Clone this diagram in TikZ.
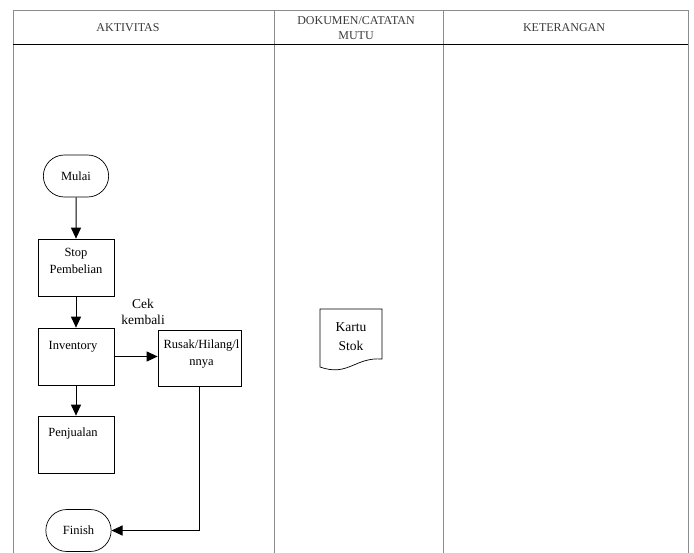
\documentclass[tikz,border=0pt]{standalone}
\usepackage{fontspec}
\setmainfont{Liberation Serif}
\usetikzlibrary{shapes.misc,arrows.meta,positioning}
\definecolor{gridgray}{HTML}{8C8C8C}
\definecolor{headgray}{HTML}{3A3A3A}
\tikzset{
  terminal/.style={draw, line width=0.7pt, rounded rectangle, minimum width=72pt, minimum height=42pt, font=\fontsize{12.5}{14}\selectfont},
  procbox/.style={draw, line width=0.7pt, rectangle, minimum width=76pt, minimum height=57pt},
  boxtext/.style={font=\fontsize{12.5}{17}\selectfont, align=center},
  headlabel/.style={font=\fontsize{12}{14.5}\selectfont, text=headgray, align=center},
  flow/.style={-{Triangle[length=11pt,width=10pt]}, line width=1pt},
}

\begin{document}
\begin{tikzpicture}[x=1pt,y=-1pt]
\useasboundingbox (0,0) rectangle (694,552);
\clip (0,0) rectangle (694,552);
% table
\fill[white] (0,0) rectangle (694,552);
\draw[gridgray, line width=0.9pt] (13,10) rectangle (688,600);
\draw[gridgray, line width=0.9pt] (274,10) -- (274,600);
\draw[gridgray, line width=0.9pt] (443,10) -- (443,600);
\draw[black, line width=0.9pt] (13,44) -- (688,44);
\node[headlabel] (hakt) at (128,28) {AKTIVITAS};
\node[headlabel] (hdok) at (356,28) {DOKUMEN/CATATAN\\MUTU};
\node[headlabel] (hket) at (564,28) {KETERANGAN};
% aktivitas
\node[terminal] (mulai) at (76,176) {Mulai};
\node[procbox, label={[boxtext,anchor=north,yshift=-6pt]north:Stop\\Pembelian}] (stop) at (76,267.5) {};
\node[procbox, label={[boxtext,anchor=north,yshift=-10pt,xshift=-3pt]north:Inventory}] (inventory) at (76,356.5) {};
\node[procbox, minimum width=83pt, minimum height=56pt, label={[boxtext,anchor=north,yshift=-7pt,xshift=2pt]north:Rusak/Hilang/l\\nnya}] (rusak) at (199.5,358) {};
\node[procbox, label={[boxtext,anchor=north,yshift=-9pt,xshift=-3pt]north:Penjualan}] (penjualan) at (76,444.5) {};
\node[terminal] (finish) at (78.5,530.5) {Finish};
\node[font=\fontsize{13.5}{16}\selectfont, align=center] (cek) at (143,312) {Cek\\kembali};
% dokumen
\draw[line width=0.7pt] (320,309) -- (382,309) -- (382,359)
  .. controls (355,357) and (348,377) .. (320,367) -- cycle;
\node[boxtext, font=\fontsize{13.5}{19}\selectfont] (kartu) at (351,337) {Kartu\\Stok};
% connectors
\draw[flow] (mulai) -- (stop);
\draw[flow] (stop) -- (inventory);
\draw[flow] (inventory.east) -- (inventory.east -| rusak.west);
\draw[flow] (inventory) -- (penjualan);
\draw[flow] (rusak.south) |- (finish.east);
\end{tikzpicture}
\end{document}
